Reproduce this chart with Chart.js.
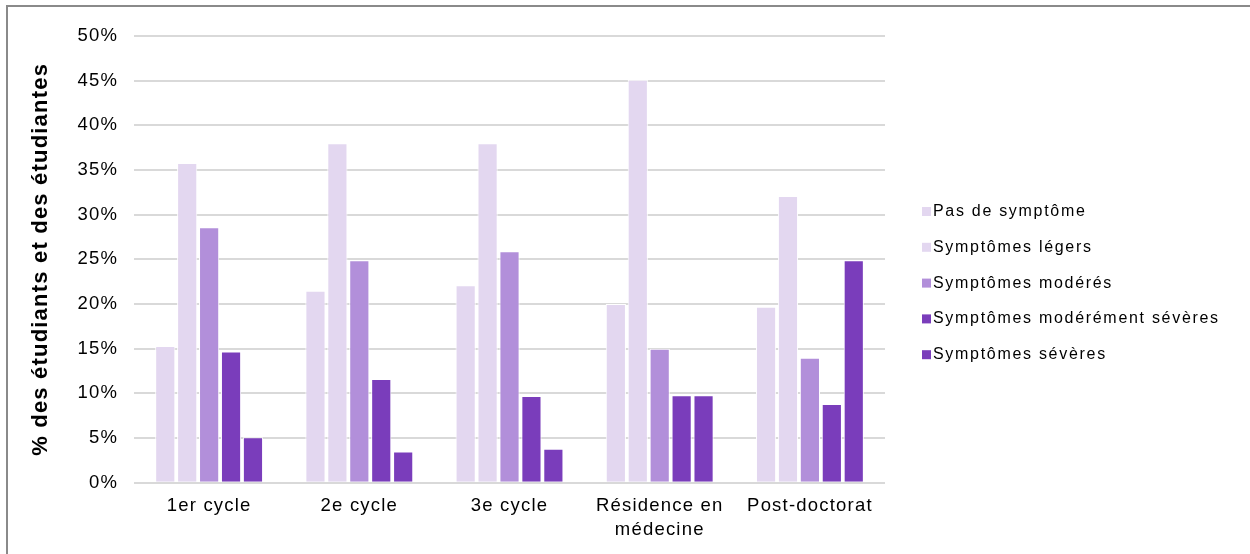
<!DOCTYPE html>
<html>
<head>
<meta charset="utf-8">
<script src="https://cdn.jsdelivr.net/npm/chart.js@4"></script>
<style>
    html, body { margin: 0; padding: 0; background: #fff; }
    #wrap { position: relative; width: 1250px; height: 554px; }
    #frame { position: absolute; left: 6px; top: 5px; right: 0; bottom: 0;
             border-top: 2px solid #8a8a8a; border-left: 2px solid #8a8a8a; pointer-events: none; }
    canvas { display: block; }
</style>
</head>
<body>
<div id="wrap">
    <canvas id="chart" width="1250" height="554"></canvas>
    <div id="frame"></div>
</div>
<script>
var categories = ["1er cycle", "2e cycle", "3e cycle", ["Résidence en", "médecine"], "Post-doctorat"];
var seriesNames = ["Pas de symptôme", "Symptômes légers", "Symptômes modérés", "Symptômes modérément sévères", "Symptômes sévères"];
var pasDeSymptome = [15.3, 21.5, 22.1, 20.0, 19.7];
var symptomesLegers = [35.8, 38.0, 38.0, 45.1, 32.1];
var symptomesModeres = [28.6, 24.9, 25.9, 15.0, 14.0];
var symptomesModSeveres = [14.7, 11.6, 9.7, 9.8, 8.8];
var symptomesSeveres = [5.1, 3.5, 3.8, 9.8, 24.9];
var seriesColors = ["#e3d7f0", "#e3d7f0", "#b28fda", "#7a3dbb", "#7a3dbb"];
var yTicks = [0, 5, 10, 15, 20, 25, 30, 35, 40, 45, 50];

var allSeries = [pasDeSymptome, symptomesLegers, symptomesModeres, symptomesModSeveres, symptomesSeveres];
var datasets = [];
for (var i = 0; i < allSeries.length; i++) {
    datasets.push({
        label: seriesNames[i],
        data: allSeries[i],
        backgroundColor: seriesColors[i],
        borderColor: "#ffffff",
        borderWidth: 1,
        categoryPercentage: 0.73,
        barPercentage: 0.92
    });
}

// the reference text is spaced out a bit, canvas letterSpacing does that
var spacing = {
    id: "spacing",
    beforeUpdate: function(chart) { chart.ctx.letterSpacing = "1.2px"; },
    beforeDraw: function(chart) { chart.ctx.letterSpacing = "1.2px"; }
};

// legend drawn by hand so the little square sits right against the text
var sideLegend = {
    id: "sideLegend",
    afterDraw: function(chart) {
        var ctx = chart.ctx;
        var sets = chart.data.datasets;
        ctx.save();
        ctx.letterSpacing = "1.7px";
        ctx.font = "16px Arial, 'Liberation Sans', sans-serif";
        ctx.textBaseline = "alphabetic";
        for (var k = 0; k < sets.length; k++) {
            var base = 216 + k * 35.8;
            ctx.fillStyle = sets[k].backgroundColor;
            ctx.fillRect(922, base - 9, 9, 9);
            ctx.fillStyle = "#000";
            ctx.fillText(sets[k].label, 933, base);
        }
        ctx.restore();
    }
};

Chart.defaults.font.family = "Arial, 'Liberation Sans', sans-serif";
Chart.defaults.font.size = 18.5;
Chart.defaults.color = "#000";

new Chart(document.getElementById("chart"), {
    type: "bar",
    data: { labels: categories, datasets: datasets },
    plugins: [spacing, sideLegend],
    options: {
        responsive: false,
        animation: false,
        layout: { padding: { left: 28, top: 36, right: 365, bottom: 1 } },
        plugins: {
            tooltip: { enabled: false },
            legend: { display: false }
        },
        scales: {
            x: {
                grid: { display: false, drawTicks: false },
                border: { display: false },
                ticks: { maxRotation: 0, padding: 12, color: "#000", font: { size: 18.5, lineHeight: 1.25 } }
            },
            y: {
                min: 0,
                max: 50,
                afterBuildTicks: function(axis) {
                    axis.ticks = yTicks.map(function(v) { return { value: v }; });
                },
                grid: { color: "#d9d9d9", lineWidth: 2, drawTicks: false },
                border: { display: false },
                ticks: {
                    padding: 16,
                    color: "#000",
                    callback: function(v) { return v + "%"; }
                },
                title: {
                    display: true,
                    text: "% des étudiants et des étudiantes",
                    font: { size: 22, weight: "bold" },
                    color: "#000",
                    padding: { top: 0, bottom: 7 }
                }
            }
        }
    }
});
</script>
</body>
</html>
